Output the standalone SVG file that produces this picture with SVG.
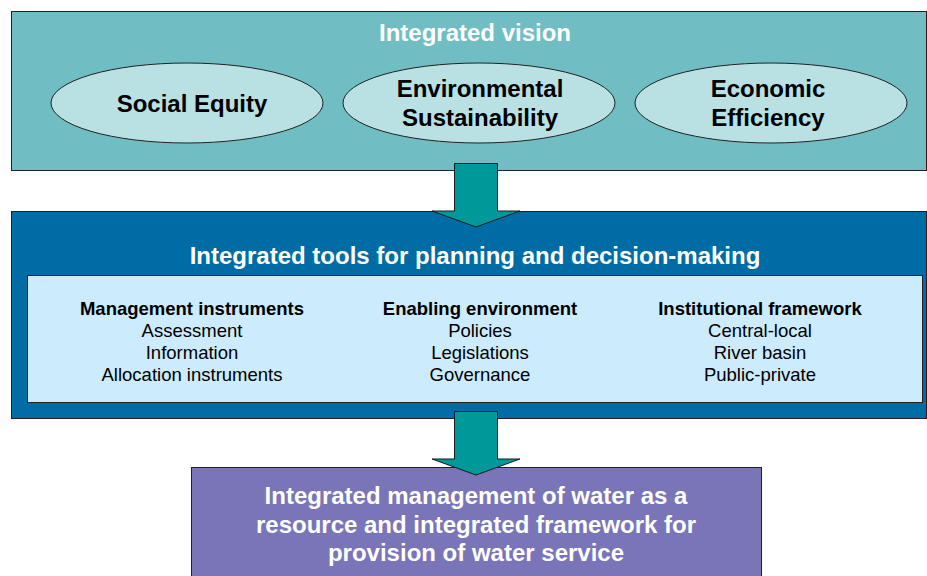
<svg xmlns="http://www.w3.org/2000/svg" width="927" height="576" viewBox="0 0 927 576">
<style>
text{font-family:"Liberation Sans",Arial,sans-serif;text-anchor:middle}
.b{font-weight:bold}
.w{fill:#ffffff}
.k{fill:#000000}
.t{font-size:24px}
.s{font-size:18.5px}
.edge{stroke:#222222;stroke-width:1}
.ell{fill:#B9E0E3;stroke:#222222;stroke-width:1}
.arrow{fill:#009999;stroke:#1a1a1a;stroke-width:1}
</style>
<rect width="927" height="576" fill="#ffffff"/>
<g id="vision">
<rect class="edge" x="11.5" y="11.5" width="915" height="159" fill="#70BEC3"/>
<text class="b w t" x="475" y="41">Integrated vision</text>
</g>
<g id="social-equity">
<ellipse class="ell" cx="187" cy="103" rx="136" ry="40"/>
<text class="b k t" x="192" y="112">Social Equity</text>
</g>
<g id="environmental-sustainability">
<ellipse class="ell" cx="479" cy="103" rx="136" ry="40"/>
<text class="b k t" x="480" y="97">Environmental</text>
<text class="b k t" x="480" y="126">Sustainability</text>
</g>
<g id="economic-efficiency">
<ellipse class="ell" cx="771" cy="103" rx="136" ry="40"/>
<text class="b k t" x="768" y="97">Economic</text>
<text class="b k t" x="768" y="126">Efficiency</text>
</g>
<g id="tools">
<rect class="edge" x="11.5" y="211.5" width="915" height="207" fill="#006CA5"/>
<text class="b w t" x="475" y="264">Integrated tools for planning and decision-making</text>
<rect class="edge" x="27.5" y="275.5" width="895" height="127" fill="#CCEBFD"/>
</g>
<g id="management-instruments">
<text class="b k s" x="192" y="315">Management instruments</text>
<text class="k s" x="192" y="337">Assessment</text>
<text class="k s" x="192" y="359">Information</text>
<text class="k s" x="192" y="381">Allocation instruments</text>
</g>
<g id="enabling-environment">
<text class="b k s" x="480" y="315">Enabling environment</text>
<text class="k s" x="480" y="337">Policies</text>
<text class="k s" x="480" y="359">Legislations</text>
<text class="k s" x="480" y="381">Governance</text>
</g>
<g id="institutional-framework">
<text class="b k s" x="760" y="315">Institutional framework</text>
<text class="k s" x="760" y="337">Central-local</text>
<text class="k s" x="760" y="359">River basin</text>
<text class="k s" x="760" y="381">Public-private</text>
</g>
<g id="outcome">
<rect class="edge" x="191.5" y="467.5" width="570" height="120" fill="#7A74B8"/>
<text class="b w t" x="476" y="504">Integrated management of water as a</text>
<text class="b w t" x="476" y="533">resource and integrated framework for</text>
<text class="b w t" x="476" y="561">provision of water service</text>
</g>
<g id="connectors">
<polygon class="arrow" points="454.5,163.5 497.5,163.5 497.5,211 520,211 476,227 432,211 454.5,211"/>
<polygon class="arrow" points="454.5,411.5 497.5,411.5 497.5,459 520,459 476,475 432,459 454.5,459"/>
</g>
</svg>
